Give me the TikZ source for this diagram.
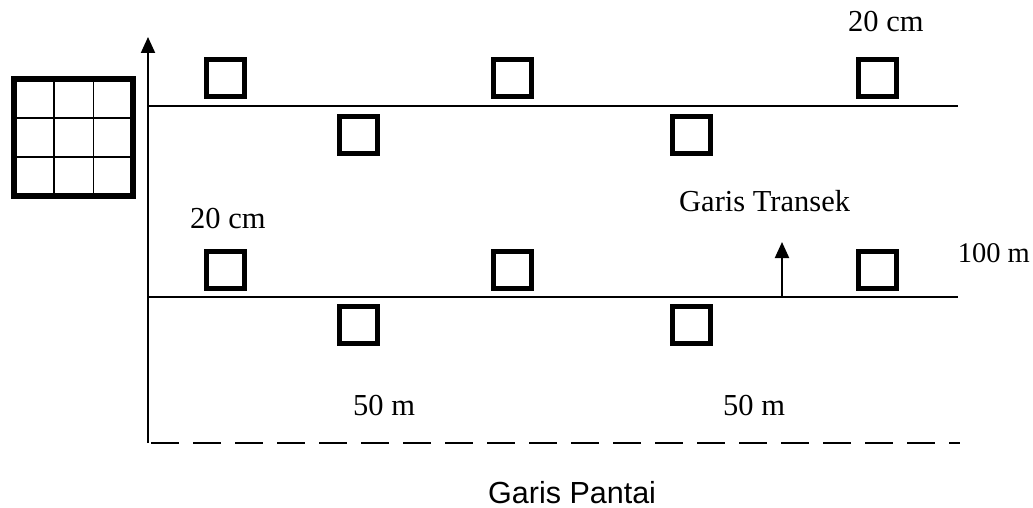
\documentclass[tikz,border=0pt]{standalone}
\usepackage{fontspec}
\setmainfont{Liberation Serif}
\newfontfamily\arialfont{Liberation Sans}
\usetikzlibrary{arrows.meta}
\begin{document}
\begin{tikzpicture}[x=1pt,y=-1pt,
  plot/.style={draw,line width=5pt,minimum width=38pt,minimum height=37pt,inner sep=0pt},
  thinline/.style={line width=2pt},
  lbl/.style={anchor=base west,inner sep=0pt,font=\fontsize{30.5}{36}\selectfont},
  sanslbl/.style={anchor=base west,inner sep=0pt,font=\arialfont\fontsize{30.5}{36}\selectfont},
  tip/.style={-{Triangle[length=16pt,width=14pt]}}]
\useasboundingbox (0,0) rectangle (1033,508);
% grid quadrat
\draw[line width=1.8pt] (14,79)++(39.7,0) -- ++(0,117) ++(39.7,-117) -- ++(0,117);
\draw[line width=1.8pt] (14,118) -- ++(119,0) (14,157) -- ++(119,0);
\node[draw,line width=6pt,minimum width=119pt,minimum height=117pt,inner sep=0pt] (grid) at (73.5,137.5) {};
% axis and lines
\coordinate (o) at (148,443);
\coordinate (top) at (148,37);
\coordinate (l1a) at (148,106);
\coordinate (l1b) at (958,106);
\coordinate (l2a) at (148,297);
\coordinate (l2b) at (958,297);
\coordinate (sea) at (960,443);
\draw[thinline,tip] (o) -- (top);
\draw[thinline] (l1a) -- (l1b);
\draw[thinline] (l2a) -- (l2b);
\draw[thinline,dash pattern=on 28pt off 14pt] ([xshift=3pt]o) -- (sea);
% transect arrow
\coordinate (ta) at (782,297);
\coordinate (tb) at (782,242);
\draw[thinline,tip] (ta) -- (tb);
% plots
\node[plot] (p1) at (225,78) {};
\node[plot] (p2) at (512,78) {};
\node[plot] (p3) at (877,78) {};
\node[plot] (p4) at (358,135) {};
\node[plot] (p5) at (691,135) {};
\node[plot] (p6) at (225,270) {};
\node[plot] (p7) at (512,270) {};
\node[plot] (p8) at (877,270) {};
\node[plot] (p9) at (358,325) {};
\node[plot] (p10) at (691,325) {};
% labels
\node[lbl] (t1) at (848,32) {20 cm};
\node[lbl] (t2) at (190,228) {20 cm};
\node[lbl] (t3) at (679,211) {Garis Transek};
\node[lbl,anchor=base east,font=\fontsize{28.5}{34}\selectfont] (t4) at (1030,262) {100 m};
\node[lbl] (t5) at (353,415) {50 m};
\node[lbl] (t6) at (723,415) {50 m};
\node[sanslbl] (t7) at (488,503) {Garis Pantai};
\end{tikzpicture}
\end{document}
